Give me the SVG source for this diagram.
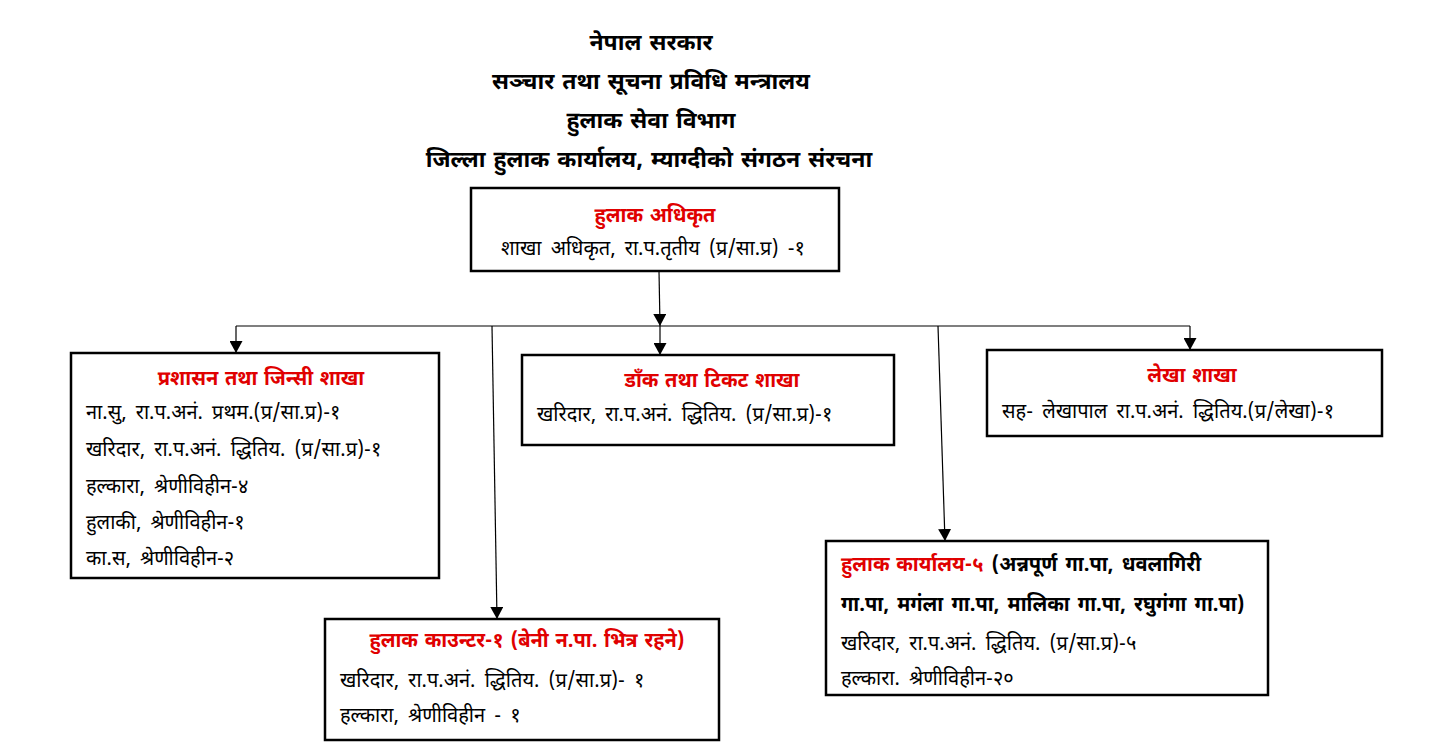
<svg xmlns="http://www.w3.org/2000/svg" width="1429" height="750" viewBox="0 0 1429 750">
<defs>
<marker id="arr" markerWidth="12" markerHeight="13" refX="12" refY="6.5" orient="auto" markerUnits="userSpaceOnUse" viewBox="0 0 12 13">
<path d="M0,0 L12,6.5 L0,13 Z" fill="#000"/>
</marker>
</defs>
<style>
text{font-family:"Noto Sans Devanagari","Noto Sans","Lohit Devanagari","DejaVu Sans",sans-serif;}
.hd{font-size:23px;font-weight:bold;fill:#000;text-anchor:middle;word-spacing:2px;}
.t{font-size:20px;font-weight:bold;fill:#e00000;word-spacing:1.5px;}
.b{font-size:20px;fill:#000;word-spacing:4px;}
.bb{font-size:20px;fill:#000;font-weight:bold;word-spacing:3px;}
.c{text-anchor:middle;}
.box{fill:#fff;stroke:#000;stroke-width:2.5;}
.ln{stroke:#000;stroke-width:1.2;fill:none;}
.la{stroke:#000;stroke-width:1.2;fill:none;marker-end:url(#arr);}
</style>
<rect width="1429" height="750" fill="#fff"/>
<g id="header">
<text class="hd" x="651" y="50">नेपाल सरकार</text>
<text class="hd" x="651" y="89">सञ्चार तथा सूचना प्रविधि मन्त्रालय</text>
<text class="hd" x="651" y="128">हुलाक सेवा विभाग</text>
<text class="hd" x="649" y="167">जिल्ला हुलाक कार्यालय, म्याग्दीको संगठन संरचना</text>
</g>
<g id="connectors">
<line class="la" x1="659" y1="271" x2="660" y2="326"/>
<line class="ln" x1="236" y1="326" x2="1190" y2="326"/>
<line class="la" x1="236" y1="326" x2="236" y2="353"/>
<line class="la" x1="660" y1="326" x2="660" y2="355"/>
<line class="la" x1="1190" y1="326" x2="1190" y2="350"/>
<line class="la" x1="492" y1="326" x2="497" y2="619"/>
<line class="la" x1="938" y1="326" x2="945" y2="541"/>
</g>
<g id="n-adhikrit">
<rect class="box" x="471" y="188" width="368" height="83"/>
<text class="t c" x="655" y="222">हुलाक अधिकृत</text>
<text class="b c" x="653" y="255">शाखा अधिकृत, रा.प.तृतीय (प्र/सा.प्र) -१</text>
</g>
<g id="n-prashasan">
<rect class="box" x="71" y="353" width="368" height="225"/>
<text class="t c" x="261" y="385">प्रशासन तथा जिन्सी शाखा</text>
<text class="b" x="86" y="419">ना.सु, रा.प.अनं. प्रथम.(प्र/सा.प्र)-१</text>
<text class="b" x="86" y="456">खरिदार, रा.प.अनं. द्धितिय. (प्र/सा.प्र)-१</text>
<text class="b" x="86" y="493">हल्कारा, श्रेणीविहीन-४</text>
<text class="b" x="86" y="529">हुलाकी, श्रेणीविहीन-१</text>
<text class="b" x="86" y="565">का.स, श्रेणीविहीन-२</text>
</g>
<g id="n-dak">
<rect class="box" x="522" y="355" width="372" height="90"/>
<text class="t c" x="712" y="387">डाँक तथा टिकट शाखा</text>
<text class="b" x="537" y="421">खरिदार, रा.प.अनं. द्धितिय. (प्र/सा.प्र)-१</text>
</g>
<g id="n-lekha">
<rect class="box" x="987" y="350" width="395" height="86"/>
<text class="t c" x="1192" y="382">लेखा शाखा</text>
<text class="b" x="1002" y="418">सह- लेखापाल रा.प.अनं. द्धितिय.(प्र/लेखा)-१</text>
</g>
<g id="n-counter">
<rect class="box" x="325" y="619" width="394" height="121"/>
<text class="t c" x="527" y="647">हुलाक काउन्टर-१ (बेनी न.पा. भित्र रहने)</text>
<text class="b" x="340" y="687">खरिदार, रा.प.अनं. द्धितिय. (प्र/सा.प्र)- १</text>
<text class="b" x="340" y="722">हल्कारा, श्रेणीविहीन - १</text>
</g>
<g id="n-karyalaya">
<rect class="box" x="826" y="541" width="442" height="154"/>
<text x="841" y="571"><tspan class="t">हुलाक कार्यालय-५</tspan><tspan class="bb"> (अन्नपूर्ण गा.पा, धवलागिरी</tspan></text>
<text class="bb" x="841" y="611">गा.पा, मगंला गा.पा, मालिका गा.पा, रघुगंगा गा.पा)</text>
<text class="b" x="841" y="650">खरिदार, रा.प.अनं. द्धितिय. (प्र/सा.प्र)-५</text>
<text class="b" x="841" y="685">हल्कारा. श्रेणीविहीन-२०</text>
</g>
</svg>
